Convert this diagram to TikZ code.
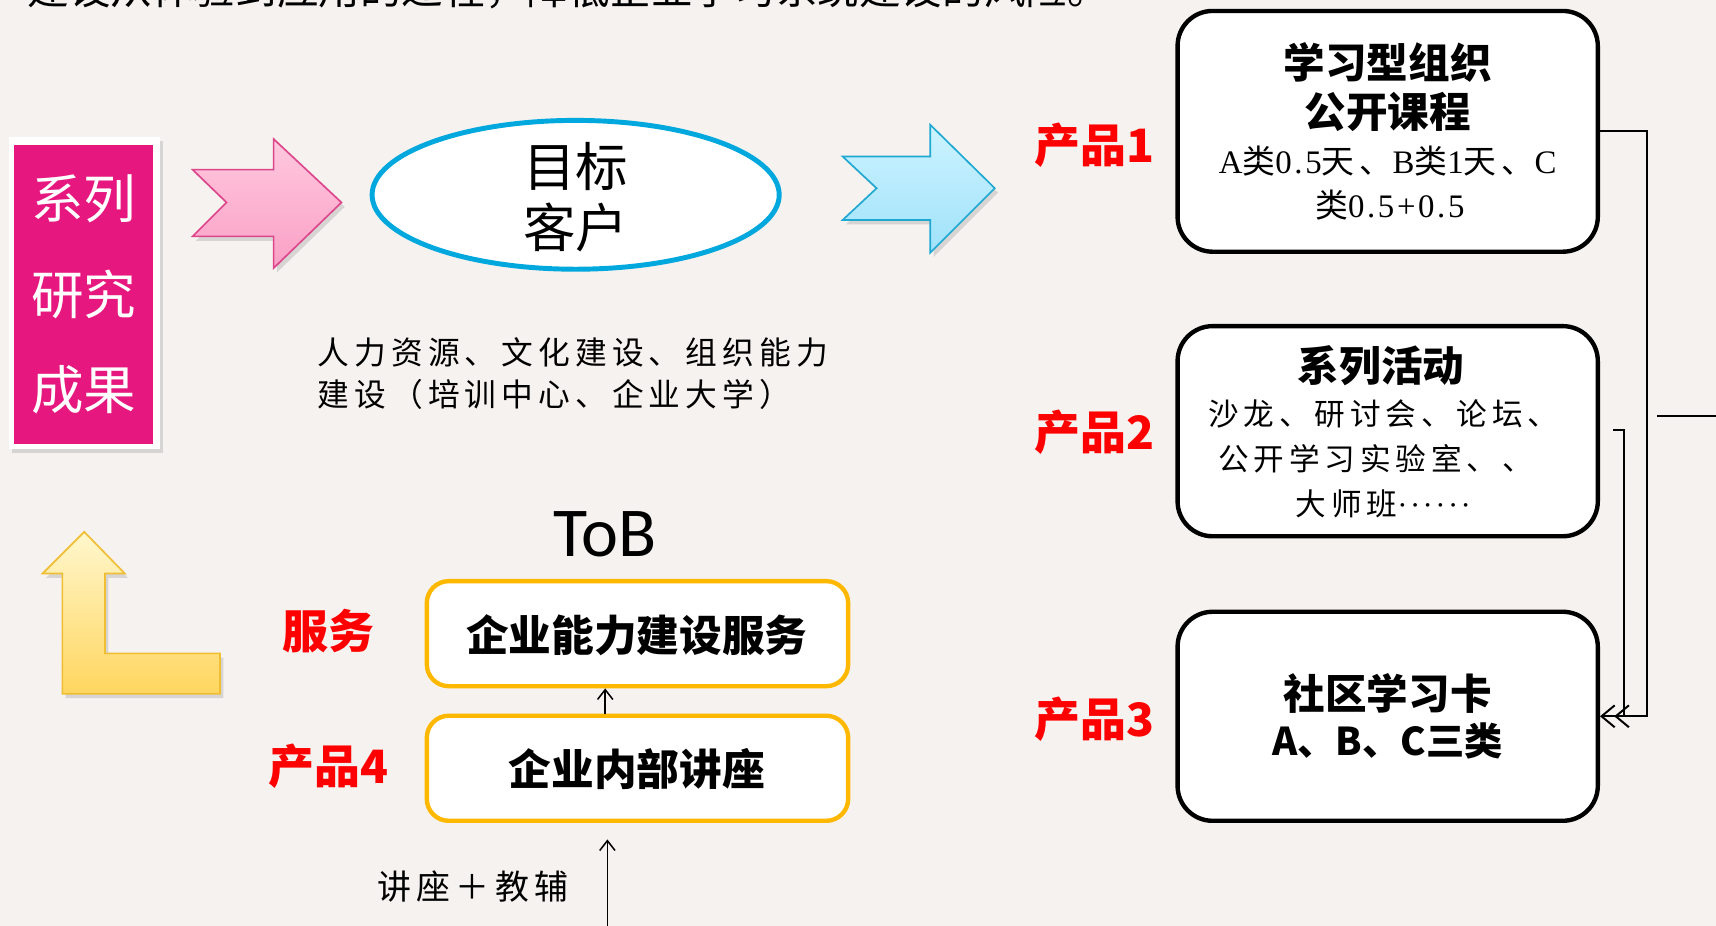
\documentclass[tikz,border=0pt]{standalone}
\usepackage{fontspec}
\setmainfont{Noto Sans CJK SC}
\newfontfamily\cjksp[LetterSpace=16]{Noto Sans CJK SC}
\newfontfamily\myserif[LetterSpace=8]{Liberation Serif}
\newfontfamily\carl{Carlito}
\usetikzlibrary{arrows.meta,shadows,shapes.geometric}
\definecolor{bg}{RGB}{245,242,239}
\definecolor{pinkbox}{RGB}{230,23,127}
\definecolor{cyanE}{RGB}{0,168,222}
\definecolor{orangeY}{RGB}{255,184,0}
\definecolor{redL}{RGB}{255,0,0}
\newcommand{\sr}[1]{{\myserif #1}}
\begin{document}
\begin{tikzpicture}[x=1pt,y=-1pt,
  txt/.style={inner sep=0pt, align=center},
  boldt/.style={txt, font=\bfseries\fontsize{38}{44}\selectfont},
  bodyt/.style={txt, font=\cjksp\fontsize{28}{36}\selectfont},
  redlab/.style={txt, text=redL, font=\bfseries\fontsize{42}{50}\selectfont},
  wbox/.style={draw=black, line width=4pt, fill=white, rounded corners=32pt, minimum width=384pt, inner sep=0pt},
  obox/.style={draw=orangeY, line width=4pt, fill=white, rounded corners=20pt, minimum width=385pt, minimum height=96pt, inner sep=0pt},
  conn/.style={line width=1.8pt, draw=black},
  tipb/.style={-{Straight Barb[length=12pt,width=20pt]}},
  tips/.style={-{Straight Barb[length=9pt,width=14pt]}},
  softshadow/.style={drop shadow={opacity=0.25, shadow xshift=3pt, shadow yshift=-4pt}}
]
\useasboundingbox (0,0) rectangle (1568,846);
\clip (0,0) rectangle (1568,846);
\fill[bg] (0,0) rectangle (1568,846);

% top (cut-off) line
\node[inner sep=0pt, anchor=base west, font=\fontsize{38}{44}\selectfont] (top) at (25,4) {建设从体验到应用的过程，降低企业学习系统建设的风险。};

% research box
\node[fill=white, minimum width=138pt, minimum height=285pt, inner sep=0pt, softshadow] (resb) at (77,267.5) {};
\node[fill=pinkbox, minimum width=127pt, minimum height=273pt, inner sep=0pt, text=white, align=center, font=\fontsize{48}{87}\selectfont] (res) at (76.5,269) {系列\\研究\\成果};

% pink arrow
\draw[draw={rgb,255:red,222;green,70;blue,140}, line width=1.5pt, top color={rgb,255:red,255;green,200;blue,222}, bottom color={rgb,255:red,250;green,160;blue,198}, softshadow]
  (176,155) -- (250,155) -- (250,127) -- (312,185) -- (250,245) -- (250,216) -- (176,216) -- (207,185) -- cycle;

% target ellipse
\node[ellipse, draw=cyanE, line width=4.5pt, fill=white, minimum width=372pt, minimum height=136pt, inner sep=0pt] (target) at (526,178) {};
\node[txt, font=\fontsize{48}{56}\selectfont] (targett) at (526,180) {目标\\客户};

% blue arrow
\draw[draw={rgb,255:red,30;green,168;blue,210}, line width=1.5pt, top color={rgb,255:red,205;green,243;blue,255}, bottom color={rgb,255:red,160;green,226;blue,250}, softshadow]
  (770,143) -- (850,143) -- (850,114) -- (909,172) -- (850,231) -- (850,201) -- (770,201) -- (801,172) -- cycle;

% description
\node[inner sep=0pt, anchor=north west, align=left, font=\cjksp\fontsize{29}{39}\selectfont] (hr) at (290,308) {人力资源、文化建设、组织能力\\建设（培训中心、企业大学）};

% right product boxes
\node[wbox, minimum height=220pt] (b1) at (1268,120) {};
\node[wbox, minimum height=192pt] (b2) at (1268,394) {};
\node[wbox, minimum height=191pt] (b3) at (1268,654.5) {};

\node[boldt] (b1a) at (1268,57) {学习型组织};
\node[boldt] (b1b) at (1268,102) {公开课程};
\node[txt, font=\cjksp\fontsize{30}{36}\selectfont] (b1c) at (1268,147) {\sr{A}类\sr{0.5}天、\sr{B}类\sr{1}天、\sr{C}};
\node[txt, font=\cjksp\fontsize{30}{36}\selectfont] (b1d) at (1270,187) {类\sr{0.5+0.5}};

\node[boldt] (b2a) at (1262,334) {系列活动};
\node[bodyt] (b2b) at (1264,378) {沙龙、研讨会、论坛、};
\node[bodyt] (b2c) at (1257,419) {公开学习实验室、、};
\node[bodyt] (b2d) at (1264,460) {大师班{\myserif ······}};

\node[boldt] (b3a) at (1268,634) {社区学习卡};
\node[txt, font=\bfseries\fontsize{35}{44}\selectfont] (b3b) at (1268,677) {A、B、C三类};

\node[redlab] (p1) at (1000,133) {产品1};
\node[redlab] (p2) at (1000,395) {产品2};
\node[redlab] (p3) at (1000,657) {产品3};

% connectors on the right
\coordinate (c2) at (1474,393);
\coordinate (c2b) at (1484,393);
\coordinate (r1) at (1514,380);
\coordinate (r2) at (1568,380);
\draw[conn, tipb, shorten >=13pt] (b1.east) -- ++(43,0) |- (b3.east);
\draw[conn, tipb] (c2) -- (c2b) |- (b3.east);
\draw[conn] (r1) -- (r2);

% yellow L arrow
\draw[draw={rgb,255:red,240;green,190;blue,50}, line width=1.5pt, top color={rgb,255:red,255;green,247;blue,205}, bottom color={rgb,255:red,255;green,214;blue,95}, softshadow]
  (77,486) -- (114,524) -- (96,524) -- (96,597) -- (201,597) -- (201,634) -- (57,634) -- (57,524) -- (39,524) -- cycle;

% ToB section
\node[inner sep=0pt, font=\carl\fontsize{64}{70}\selectfont] (tob) at (553,488) {ToB};
\node[obox] (svc) at (582.5,579) {};
\node[obox] (lec) at (582.5,702) {};
\node[boldt, font=\bfseries\fontsize{39}{44}\selectfont] (svct) at (582,580) {企业能力建设服务};
\node[boldt, font=\bfseries\fontsize{39}{44}\selectfont] (lect) at (582,703) {企业内部讲座};
\node[redlab] (fw) at (300,577) {服务};
\node[redlab] (p4) at (300,700) {产品4};

\coordinate (ax) at (553,0);
\coordinate (bot) at (555,846);
\draw[line width=1.4pt, tips] (lec.north -| ax) -- (svc.south -| ax);
\draw[line width=1.4pt, tips, shorten >=15pt] (bot) -- (lec.south -| bot);
\node[txt, font=\cjksp\fontsize{31}{36}\selectfont] (jz) at (432,810) {讲座＋教辅};
\end{tikzpicture}
\end{document}
